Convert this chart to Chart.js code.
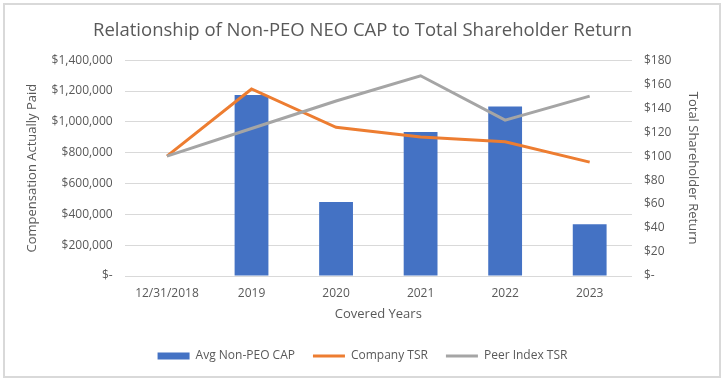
<!DOCTYPE html>
<html>
<head>
<meta charset="utf-8">
<script src="https://cdn.jsdelivr.net/npm/chart.js@4/dist/chart.umd.min.js"></script>
<style>
html,body{margin:0;padding:0;background:#fff;}
#wrap{position:relative;width:724px;height:383px;}
</style>
</head>
<body>
<div id="wrap"><canvas id="c" width="724" height="383"></canvas></div>
<script>
const categories = ['12/31/2018', '2019', '2020', '2021', '2022', '2023'];
const avgNonPeoCap = [null, 1175000, 480000, 935000, 1100000, 335000];
const companyTSR = [100, 156, 124, 116, 112, 95];
const peerIndexTSR = [100, 123, 146, 167, 130, 150];
const leftTicks = [0, 200000, 400000, 600000, 800000, 1000000, 1200000, 1400000];
const rightTicks = [0, 20, 40, 60, 80, 100, 120, 140, 160, 180];

const FONT = 'Open Sans';
const GREY = '#595959';

const borderPlugin = {
  id: 'frame',
  afterDraw(chart) {
    const ctx = chart.ctx;
    ctx.save();
    ctx.strokeStyle = '#d9d9d9';
    ctx.lineWidth = 2;
    ctx.strokeRect(4, 4, 716, 373);
    ctx.restore();
  }
};

new Chart(document.getElementById('c'), {
  type: 'bar',
  data: {
    labels: categories,
    datasets: [
      {
        label: 'Avg Non-PEO CAP',
        data: avgNonPeoCap,
        backgroundColor: '#4472C4',
        borderWidth: 0,
        yAxisID: 'y',
        order: 2,
        categoryPercentage: 1,
        barPercentage: 0.4,
        pointStyle: 'rect'
      },
      {
        type: 'line',
        label: 'Company TSR',
        data: companyTSR,
        borderColor: '#ED7D31',
        backgroundColor: '#ED7D31',
        borderWidth: 3,
        pointRadius: 0,
        tension: 0,
        yAxisID: 'y1',
        order: 1,
        pointStyle: 'line'
      },
      {
        type: 'line',
        label: 'Peer Index TSR',
        data: peerIndexTSR,
        borderColor: '#A5A5A5',
        backgroundColor: '#A5A5A5',
        borderWidth: 3,
        pointRadius: 0,
        tension: 0,
        yAxisID: 'y1',
        order: 0,
        pointStyle: 'line'
      }
    ]
  },
  options: {
    responsive: false,
    animation: false,
    devicePixelRatio: 1,
    layout: { padding: { left: 24, right: 23, top: 16, bottom: 11 } },
    plugins: {
      tooltip: { enabled: false },
      title: {
        display: true,
        text: 'Relationship of Non-PEO NEO CAP to Total Shareholder Return',
        color: GREY,
        font: { family: FONT, size: 18.5, weight: 'normal' },
        padding: { top: 4, bottom: 18 }
      },
      legend: {
        position: 'bottom',
        labels: {
          sort: (a, b) => a.datasetIndex - b.datasetIndex,
          usePointStyle: true,
          pointStyleWidth: 32,
          boxHeight: 7,
          padding: 18,
          color: GREY,
          font: { family: FONT, size: 12 }
        }
      }
    },
    scales: {
      x: {
        grid: { display: false },
        border: { display: false },
        ticks: { color: GREY, font: { family: FONT, size: 12 }, padding: 2, maxRotation: 0 },
        title: { display: true, text: 'Covered Years', color: GREY, font: { family: FONT, size: 13 }, padding: { top: 4, bottom: 10 } }
      },
      y: {
        position: 'left',
        min: 0,
        max: 1400000,
        afterBuildTicks: (s) => { s.ticks = leftTicks.map(v => ({ value: v })); },
        grid: { color: '#d9d9d9', drawTicks: false, lineWidth: 1 },
        border: { display: false },
        ticks: {
          color: GREY,
          font: { family: FONT, size: 12 },
          padding: 12,
          callback: (v) => v === 0 ? '$-' : '$' + Number(v).toLocaleString('en-US')
        },
        title: { display: true, text: 'Compensation Actually Paid', color: GREY, font: { family: FONT, size: 13 }, padding: { top: 0, bottom: 0 } }
      },
      y1: {
        position: 'right',
        min: 0,
        max: 180,
        afterBuildTicks: (s) => { s.ticks = rightTicks.map(v => ({ value: v })); },
        grid: { display: false, drawTicks: false },
        border: { display: false },
        ticks: {
          color: GREY,
          font: { family: FONT, size: 12 },
          padding: 12,
          callback: (v) => v === 0 ? '$-' : '$' + v
        },
        title: { display: true, text: 'Total Shareholder Return', color: GREY, font: { family: FONT, size: 13 }, padding: { top: 0, bottom: 2 } }
      }
    }
  },
  plugins: [borderPlugin]
});
</script>
</body>
</html>
